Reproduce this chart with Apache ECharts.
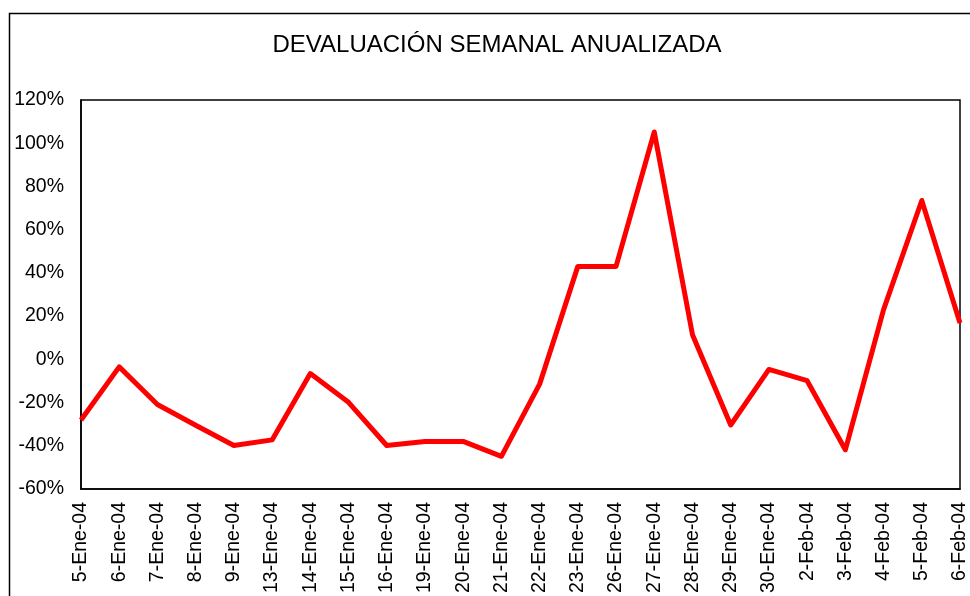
<!DOCTYPE html>
<html>
<head>
<meta charset="utf-8">
<script src="https://cdn.jsdelivr.net/npm/echarts@6/dist/echarts.min.js"></script>
<style>
    html, body { margin: 0; padding: 0; background: #fff; }
    #chart { width: 970px; height: 596px; }
</style>
</head>
<body>
<div id="chart"></div>
<script>
// fechas (eje x)
const categories = [
    '5-Ene-04', '6-Ene-04', '7-Ene-04', '8-Ene-04', '9-Ene-04', '13-Ene-04',
    '14-Ene-04', '15-Ene-04', '16-Ene-04', '19-Ene-04', '20-Ene-04', '21-Ene-04',
    '22-Ene-04', '23-Ene-04', '26-Ene-04', '27-Ene-04', '28-Ene-04', '29-Ene-04',
    '30-Ene-04', '2-Feb-04', '3-Feb-04', '4-Feb-04', '5-Feb-04', '6-Feb-04'
];
// devaluacion semanal anualizada, en %
const devaluacion = [
    -28.1, -3.5, -20.9, -30.5, -39.9, -37.3,
    -6.6, -19.9, -39.9, -38.0, -38.0, -44.9,
    -11.5, 43.0, 43.0, 105.2, 11.4, -30.4,
    -4.7, -9.9, -41.9, 23.0, 73.5, 16.8
];
const yTicks = { min: -60, max: 120, interval: 20 };

const fontFamily = '"Liberation Sans", Arial, sans-serif';
const myChart = echarts.init(document.getElementById('chart'));

const option = {
    animation: false,
    backgroundColor: '#fff',
    title: {
        text: 'DEVALUACIÓN SEMANAL ANUALIZADA',
        left: 497,
        top: 33,
        padding: 0,
        textAlign: 'center',
        textStyle: {
            fontFamily: fontFamily,
            fontSize: 24,
            fontWeight: 'normal',
            color: '#000',
        },
    },
    graphic: [
        {
            type: 'rect',
            shape: { x: 9.5, y: 13.5, width: 2000, height: 2000 },
            style: { fill: 'none', stroke: '#000', lineWidth: 1.5 },
            silent: true,
        },
    ],
    grid: {
        left: 81,
        top: 100,
        width: 885,
        height: 391,
        show: true,
        borderColor: '#000',
        borderWidth: 1.5,
        containLabel: false,
    },
    xAxis: {
        type: 'category',
        data: categories,
        boundaryGap: false,
        axisLine: { onZero: false, lineStyle: { color: '#000', width: 1.5 } },
        axisTick: { show: false },
        axisLabel: {
            interval: 0,
            rotate: 90,
            margin: 13,
            fontFamily: fontFamily,
            fontSize: 19.5,
            color: '#000',
        },
        splitLine: { show: false },
    },
    yAxis: {
        type: 'value',
        min: yTicks.min,
        max: yTicks.max,
        interval: yTicks.interval,
        axisLine: { show: true, lineStyle: { color: '#000', width: 1.5 } },
        axisTick: { show: false },
        axisLabel: {
            formatter: '{value}%',
            margin: 17,
            fontFamily: fontFamily,
            fontSize: 19.5,
            color: '#000',
        },
        splitLine: { show: false },
    },
    series: [
        {
            name: 'Devaluación',
            type: 'line',
            data: devaluacion,
            symbol: 'none',
            lineStyle: { color: '#ff0000', width: 5, join: 'round' },
        },
    ],
};

myChart.setOption(option);
</script>
</body>
</html>
